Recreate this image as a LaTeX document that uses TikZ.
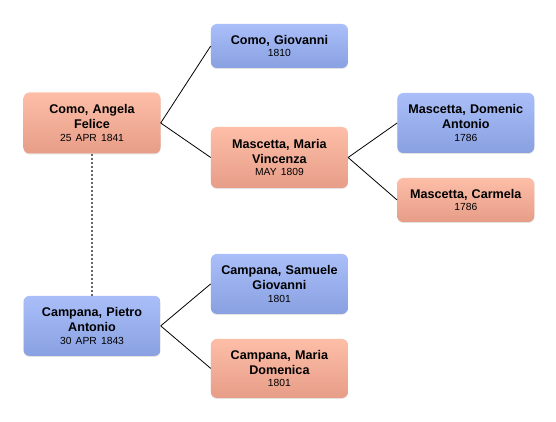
\documentclass[tikz,border=0pt]{standalone}
\usepackage{fontspec}
\setmainfont{Liberation Sans}
\usetikzlibrary{positioning, shadows}

\definecolor{maletop}{RGB}{170,191,249}
\definecolor{malebot}{RGB}{137,160,225}
\definecolor{femtop}{RGB}{253,190,167}
\definecolor{fembot}{RGB}{231,157,136}
\newcommand{\yrfont}{\fontsize{10.3}{12}\selectfont}

\begin{document}
\begin{tikzpicture}[x=1pt, y=1pt, node distance=50pt,
  person/.style={rounded corners=6pt, minimum width=137pt, text width=130pt, align=center,
    font=\fontsize{12.6}{15}\selectfont\bfseries, inner sep=0pt,
    drop shadow={shadow xshift=0pt, shadow yshift=-1pt, opacity=0.22}},
  male/.style={person, top color=maletop, bottom color=malebot},
  female/.style={person, top color=femtop, bottom color=fembot},
  link/.style={line width=0.8pt, black}]
\useasboundingbox (0,0) rectangle (556,422);
% Como side
\node[female, minimum height=61pt] (angela) at (92,299) {Como, Angela\\Felice\\[-2.5pt]{\yrfont\mdseries 25 APR 1841}};
\node[male, minimum height=44pt, right=of angela, yshift=77pt] (giovanni) {Como, Giovanni\\[-2.5pt]{\yrfont\mdseries 1810}};
\node[female, minimum height=61pt, right=of angela, yshift=-34.5pt] (vincenza) {Mascetta, Maria\\Vincenza\\[-2.5pt]{\yrfont\mdseries MAY 1809}};
\node[male, minimum height=60pt, right=49pt of vincenza, yshift=34.5pt] (domenic) {Mascetta, Domenic\\Antonio\\[-2.5pt]{\yrfont\mdseries 1786}};
\node[female, minimum height=44pt, right=49pt of vincenza, yshift=-42.5pt] (carmela) {Mascetta, Carmela\\[-2.5pt]{\yrfont\mdseries 1786}};

% Campana side
\node[male, minimum height=60pt, below=142pt of angela] (pietro) {Campana, Pietro\\Antonio\\[-2.5pt]{\yrfont\mdseries 30 APR 1843}};
\node[male, minimum height=60pt, right=of pietro, yshift=42pt] (samuele) {Campana, Samuele\\Giovanni\\[-2.5pt]{\yrfont\mdseries 1801}};
\node[female, minimum height=59pt, right=of pietro, yshift=-42.5pt] (domenica) {Campana, Maria\\Domenica\\[-2.5pt]{\yrfont\mdseries 1801}};

% parent links
\draw[link] (angela.east) -- (giovanni.west);
\draw[link] (angela.east) -- (vincenza.west);
\draw[link] (vincenza.east) -- (domenic.west);
\draw[link] (vincenza.east) -- (carmela.west);
\draw[link] (pietro.east) -- (samuele.west);
\draw[link] (pietro.east) -- (domenica.west);

% marriage
\draw[gray!80!black, line width=1.6pt, dash pattern=on 2pt off 2pt] (angela.south) -- (pietro.north);
\end{tikzpicture}
\end{document}
